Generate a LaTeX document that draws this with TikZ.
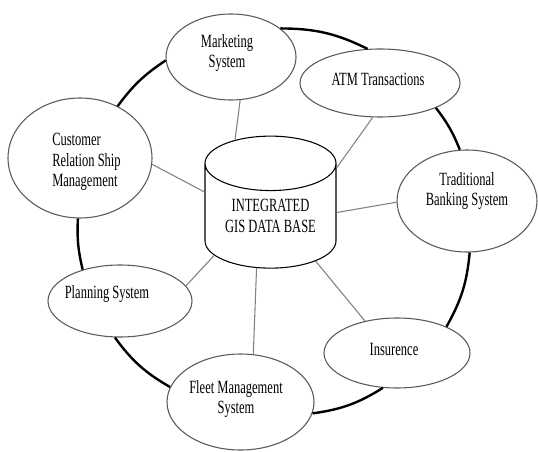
\documentclass[tikz,border=0pt]{standalone}
\usepackage{fontspec}
\setmainfont{Liberation Serif}[FakeStretch=0.67]
\usetikzlibrary{shapes.geometric}

\begin{document}
\begin{tikzpicture}[x=0.75pt, y=0.75pt,
    sys/.style={ellipse, draw=black!65, line width=0.8pt, fill=white, inner sep=0pt},
    txt/.style={inner sep=0pt, align=center, font=\fontsize{14}{15.4}\selectfont},
    spoke/.style={draw=black!50, line width=0.8pt},
    ring/.style={line width=1.8pt}]
\useasboundingbox (0,0) rectangle (538,-452);

% Data base in the middle
\node[cylinder, shape border rotate=90, aspect=0.6, draw, line width=0.8pt,
      minimum width=98.25pt, minimum height=99pt, txt] (db) at (270.5,-216) {INTEGRATED\\GIS DATA BASE};

% Systems round it
\node[sys, minimum width=97.5pt, minimum height=64.5pt] (mkt) at (231,-57) {};
\node[sys, minimum width=120pt, minimum height=51pt] (atm) at (380,-83) {};
\node[sys, minimum width=105pt, minimum height=76.5pt] (trad) at (467,-201) {};
\node[sys, minimum width=109.5pt, minimum height=52.5pt] (ins) at (397,-353) {};
\node[sys, minimum width=110.25pt, minimum height=72pt] (flt) at (240.5,-402) {};
\node[sys, minimum width=108pt, minimum height=54pt] (pln) at (120,-301) {};
\node[sys, minimum width=108pt, minimum height=90pt] (cus) at (80,-158) {};

% Names of the systems
\node[txt] (mkt-t) at (227,-53) {Marketing\\System};
\node[txt] (atm-t) at (378,-79) {ATM Transactions};
\node[txt] (trad-t) at (467,-191) {Traditional\\Banking System};
\node[txt] (ins-t) at (394,-349) {Insurence};
\node[txt] (flt-t) at (236,-399) {Fleet Management\\System};
\node[txt] (pln-t) at (107,-294) {Planning System};
\node[txt, align=left, anchor=west] (cus-t) at (52,-162) {Customer\\Relation Ship\\Management};

% Links to the data base
\draw[spoke] (mkt.-78) -- (db.115);
\draw[spoke] (atm.258) -- (db.36);
\draw[spoke] (trad.181) -- (db.3);
\draw[spoke] (ins.135) -- (db.-45);
\draw[spoke] (flt.75) -- (db.-105);
\draw[spoke] (pln.13) -- (db.215);
\draw[spoke] (cus.-5) -- (db.160);

% Outer ring
\draw[ring] (cus.54) to[bend left=10] (mkt.183);
\draw[ring] (mkt.30) to[bend left=13] (atm.110);
\draw[ring] (atm.-24) to[bend left=8] (trad.98);
\draw[ring] (trad.-87) to[bend left=12] (ins.28);
\draw[ring] (ins.248) to[bend left=12] (flt.-9);
\draw[ring] (flt.168) to[bend left=12] (pln.-98);
\draw[ring] (pln.140) to[bend left=8] (cus.268);
\end{tikzpicture}
\end{document}
